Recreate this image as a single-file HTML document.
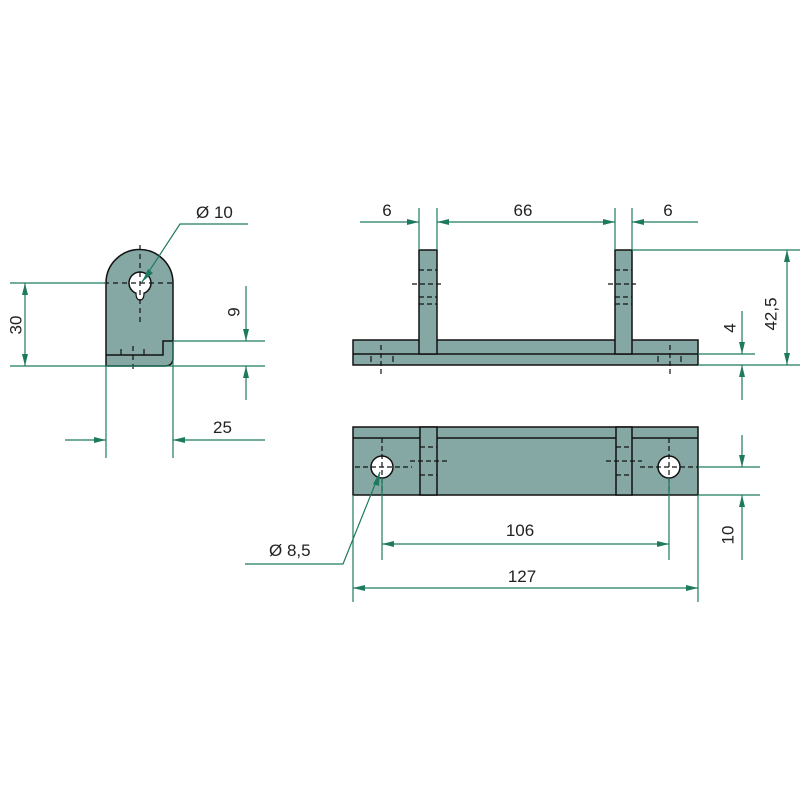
<!DOCTYPE html>
<html><head><style>body{margin:0;background:#fff}svg{display:block}</style></head><body>
<svg width="800" height="800" viewBox="0 0 800 800" xmlns="http://www.w3.org/2000/svg" font-family="Liberation Sans, sans-serif">
<defs>
<marker id="a" viewBox="0 0 12 6" refX="12" refY="3" markerWidth="12" markerHeight="6" orient="auto-start-reverse" markerUnits="userSpaceOnUse"><path d="M0,0L12,3L0,6z" fill="#1e7a5e"/></marker>
</defs>
<rect width="800" height="800" fill="#fff"/>
<!-- LEFT VIEW -->
<path d="M106,366 L106,283 A33.5,33.5 0 0 1 173,283 L173,358 Q173,366 165,366 Z" fill="#86a8a4" stroke="#111" stroke-width="1.5"/>
<path d="M106,355 L163,355 L163,341 L173,341" fill="none" stroke="#111" stroke-width="1.5"/>
<circle cx="140" cy="283" r="11" fill="#fff" stroke="#111" stroke-width="1.5"/>
<path d="M136,293 Q136,300 140,300 Q144,300 144,293" fill="#fff" stroke="#111" stroke-width="1.2"/>
<g stroke="#111" stroke-width="1.2" stroke-dasharray="5,4" fill="none">
<line x1="140" y1="245" x2="140" y2="325"/><line x1="104" y1="283" x2="175" y2="283"/>
<line x1="133" y1="346" x2="133" y2="372"/>
</g>
<g stroke="#111" stroke-width="1.2"><line x1="121" y1="349" x2="121" y2="355"/><line x1="144" y1="349" x2="144" y2="355"/></g>
<g stroke="#1e7a5e" stroke-width="1.2" fill="none">
<line x1="10" y1="283" x2="106" y2="283"/><line x1="10" y1="366" x2="265" y2="366"/>
<line x1="25" y1="283" x2="25" y2="366" marker-start="url(#a)" marker-end="url(#a)"/>
<line x1="173" y1="341" x2="265" y2="341"/>
<line x1="246" y1="286" x2="246" y2="341" marker-end="url(#a)"/>
<line x1="246" y1="400" x2="246" y2="366" marker-end="url(#a)"/>
<line x1="106" y1="366" x2="106" y2="458"/><line x1="173" y1="341" x2="173" y2="458"/>
<line x1="65" y1="440" x2="106" y2="440" marker-end="url(#a)"/>
<line x1="265" y1="440" x2="173" y2="440" marker-end="url(#a)"/>
<polyline points="248,224 180,224 142,282"/>
</g>
<path d="M142,282 L148,269 L153,273 Z" fill="#1e7a5e"/>
<g fill="#222" font-size="17">
<text x="196" y="218">Ø 10</text>
<text x="213" y="433">25</text>
<text x="16" y="325" transform="rotate(-90 16 325)" text-anchor="middle" dominant-baseline="central">30</text>
<text x="234" y="312" transform="rotate(-90 234 312)" text-anchor="middle" dominant-baseline="central">9</text>
</g>
<!-- FRONT VIEW -->
<rect x="353" y="340" width="345" height="25" fill="#86a8a4" stroke="#111" stroke-width="1.5"/>
<line x1="353" y1="354" x2="698" y2="354" stroke="#111" stroke-width="1.5"/>
<rect x="419" y="250" width="18" height="104" fill="#86a8a4" stroke="#111" stroke-width="1.5"/>
<rect x="615" y="250" width="17" height="104" fill="#86a8a4" stroke="#111" stroke-width="1.5"/>
<g stroke="#111" stroke-width="1.2" stroke-dasharray="5,3">
<line x1="419" y1="270" x2="437" y2="270"/><line x1="412" y1="284" x2="441" y2="284"/><line x1="419" y1="297" x2="437" y2="297"/><line x1="419" y1="304" x2="437" y2="304"/>
<line x1="615" y1="270" x2="632" y2="270"/><line x1="608" y1="284" x2="636" y2="284"/><line x1="615" y1="297" x2="632" y2="297"/><line x1="615" y1="304" x2="632" y2="304"/>
<line x1="381" y1="345" x2="381" y2="375"/><line x1="670" y1="345" x2="670" y2="375"/>
</g>
<g stroke="#111" stroke-width="1.2"><line x1="371" y1="356" x2="371" y2="362"/><line x1="393" y1="356" x2="393" y2="362"/><line x1="658" y1="356" x2="658" y2="362"/><line x1="681" y1="356" x2="681" y2="362"/></g>
<g stroke="#1e7a5e" stroke-width="1.2" fill="none">
<line x1="419" y1="208" x2="419" y2="250"/><line x1="437" y1="208" x2="437" y2="250"/>
<line x1="615" y1="208" x2="615" y2="250"/><line x1="632" y1="208" x2="632" y2="250"/>
<line x1="360" y1="222" x2="419" y2="222" marker-end="url(#a)"/>
<line x1="437" y1="222" x2="615" y2="222" marker-start="url(#a)" marker-end="url(#a)"/>
<line x1="698" y1="222" x2="632" y2="222" marker-end="url(#a)"/>
<line x1="632" y1="250" x2="800" y2="250"/>
<line x1="787" y1="250" x2="787" y2="365" marker-start="url(#a)" marker-end="url(#a)"/>
<line x1="698" y1="354" x2="755" y2="354"/><line x1="698" y1="365" x2="800" y2="365"/>
<line x1="742" y1="311" x2="742" y2="354" marker-end="url(#a)"/>
<line x1="742" y1="400" x2="742" y2="365" marker-end="url(#a)"/>
</g>
<g fill="#222" font-size="17">
<text x="387" y="216" text-anchor="middle">6</text>
<text x="523" y="216" text-anchor="middle">66</text>
<text x="668" y="216" text-anchor="middle">6</text>
<text x="771" y="314" transform="rotate(-90 771 314)" text-anchor="middle" dominant-baseline="central">42,5</text>
<text x="730" y="328" transform="rotate(-90 730 328)" text-anchor="middle" dominant-baseline="central">4</text>
</g>
<!-- TOP VIEW -->
<rect x="353" y="427" width="345" height="68" fill="#86a8a4" stroke="#111" stroke-width="1.5"/>
<line x1="353" y1="438" x2="698" y2="438" stroke="#111" stroke-width="1.5"/>
<rect x="420" y="427" width="17" height="68" fill="#86a8a4" stroke="#111" stroke-width="1.5"/>
<rect x="616" y="427" width="16" height="68" fill="#86a8a4" stroke="#111" stroke-width="1.5"/>
<circle cx="382" cy="467" r="11" fill="#fff" stroke="#111" stroke-width="1.5"/>
<circle cx="669" cy="467" r="11" fill="#fff" stroke="#111" stroke-width="1.5"/>
<g stroke="#111" stroke-width="1.2" stroke-dasharray="5,3">
<line x1="382" y1="438" x2="382" y2="495"/><line x1="355" y1="467" x2="412" y2="467"/>
<line x1="669" y1="438" x2="669" y2="495"/><line x1="640" y1="467" x2="698" y2="467"/>
<line x1="420" y1="447" x2="437" y2="447"/><line x1="410" y1="461" x2="447" y2="461"/><line x1="420" y1="475" x2="437" y2="475"/>
<line x1="616" y1="447" x2="632" y2="447"/><line x1="606" y1="461" x2="642" y2="461"/><line x1="616" y1="475" x2="632" y2="475"/>
</g>
<g stroke="#1e7a5e" stroke-width="1.2" fill="none">
<line x1="698" y1="467" x2="760" y2="467"/><line x1="698" y1="495" x2="760" y2="495"/>
<line x1="742" y1="435" x2="742" y2="467" marker-end="url(#a)"/>
<line x1="742" y1="560" x2="742" y2="495" marker-end="url(#a)"/>
<line x1="382" y1="478" x2="382" y2="560"/><line x1="669" y1="478" x2="669" y2="560"/>
<line x1="382" y1="544" x2="669" y2="544" marker-start="url(#a)" marker-end="url(#a)"/>
<line x1="353" y1="495" x2="353" y2="602"/><line x1="698" y1="495" x2="698" y2="602"/>
<line x1="353" y1="588" x2="698" y2="588" marker-start="url(#a)" marker-end="url(#a)"/>
<polyline points="245,564 343,564 380,472"/>
</g>
<path d="M380,472 L379,486 L373,484 Z" fill="#1e7a5e"/>
<g fill="#222" font-size="17">
<text x="269" y="556">Ø 8,5</text>
<text x="520" y="536" text-anchor="middle">106</text>
<text x="522" y="582" text-anchor="middle">127</text>
<text x="728" y="535" transform="rotate(-90 728 535)" text-anchor="middle" dominant-baseline="central">10</text>
</g>
</svg>
</body></html>
